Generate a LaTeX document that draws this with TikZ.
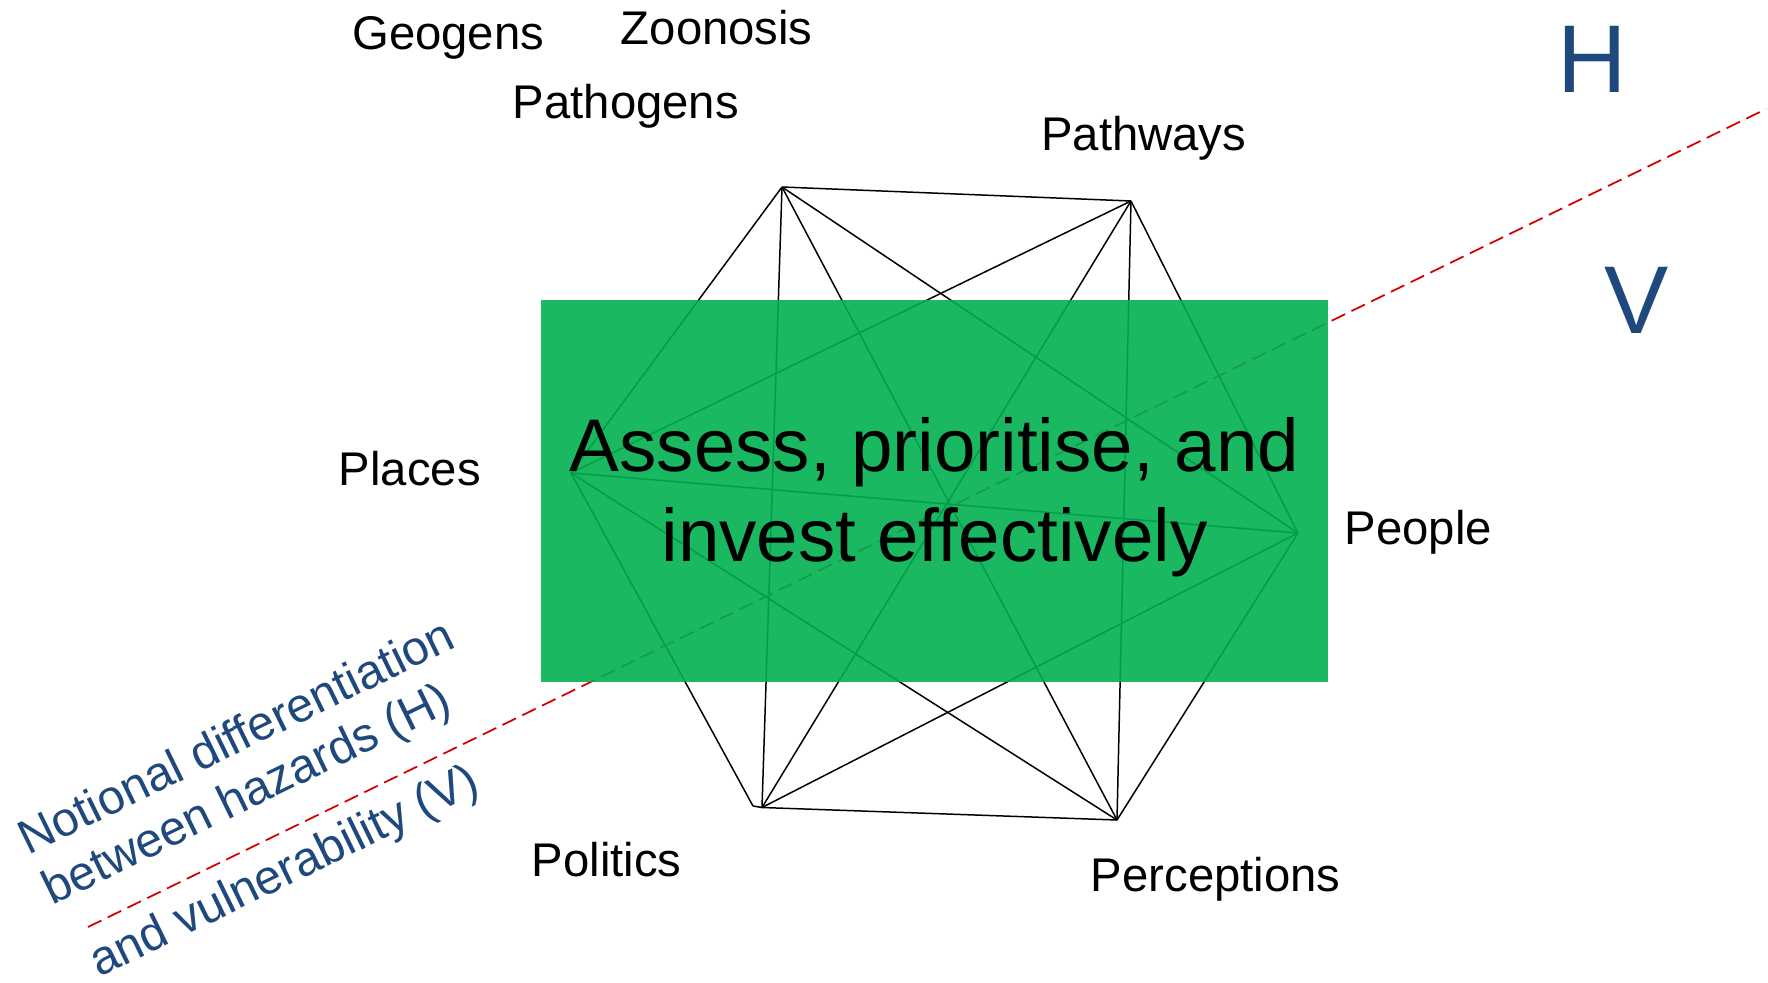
\documentclass[tikz,border=0pt]{standalone}
\usepackage{fontspec}
\setmainfont{Liberation Sans}
\definecolor{hvblue}{HTML}{1F497D}
\definecolor{boxgreen}{HTML}{00B050}
\definecolor{divred}{HTML}{D40000}
\begin{document}
\begin{tikzpicture}[x=0.02cm,y=-0.02cm,
  edge/.style={black,line width=0.85pt},
  divider/.style={divred,line width=1pt,dash pattern=on 8.5pt off 4pt},
  lab/.style={anchor=base west,inner sep=0pt,font=\fontsize{26.9}{32}\selectfont},
  hv/.style={anchor=base west,inner sep=0pt,text=hvblue,font=\fontsize{54.8}{66}\selectfont},
  note/.style={anchor=base west,inner sep=0pt,text=hvblue,rotate=26,font=\fontsize{27.4}{32}\selectfont},
  maintext/.style={anchor=base,inner sep=0pt,font=\fontsize{42.45}{51}\selectfont},
  mainbox/.style={fill=boxgreen,fill opacity=0.9,draw=none,inner sep=0pt,minimum width=15.74cm,minimum height=7.64cm}]
\useasboundingbox (0,0) rectangle (1768,983);
% vertices
\coordinate (TL) at (782,187);
\coordinate (TR) at (1131,201);
\coordinate (L) at (571,473);
\coordinate (R) at (1298,533);
\coordinate (BLa) at (753,806);
\coordinate (BL) at (762,807.5);
\coordinate (BR) at (1117,820);
% complete graph
\draw[edge] (TL) -- (TR);
\draw[edge] (TL) -- (L);
\draw[edge] (TL) -- (BL);
\draw[edge] (TL) -- (BR);
\draw[edge] (TL) -- (R);
\draw[edge] (TR) -- (L);
\draw[edge] (TR) -- (BL);
\draw[edge] (TR) -- (BR);
\draw[edge] (TR) -- (R);
\draw[edge] (L) -- (R);
\draw[edge] (L) -- (BLa);
\draw[edge] (L) -- (BR);
\draw[edge] (R) -- (BL);
\draw[edge] (R) -- (BR);
\draw[edge] (BLa) -- (BL) -- (BR);
% divider
\coordinate (dl) at (88,927);
\coordinate (dr) at (1766,109);
\draw[divider] (dl) -- (dr);
% main box
\node[mainbox] (box) at (934.5,491) {};
\node[maintext] (t1) at (934.5,471.7) {Assess, prioritise, and};
\node[maintext] (t2) at (934.5,561.7) {invest effectively};
% labels
\node[lab] (geo) at (352,50) {Geogens};
\node[lab] (zoo) at (620.5,45) {Zoonosis};
\node[lab] (pat) at (512.5,118.3) {Pathogens};
\node[lab] (pwy) at (1041,151) {Pathways};
\node[lab] (pla) at (338.5,485) {Places};
\node[lab] (peo) at (1344.5,544.5) {People};
\node[lab] (pol) at (531.5,876) {Politics};
\node[lab] (per) at (1090.5,891) {Perceptions};
\node[hv] (H) at (1557,92.3) {H};
\node[hv] (V) at (1604,333) {V};
% note
\node[note] (n1) at (28,856) {Notional differentiation};
\node[note] (n2) at (52,906) {between hazards (H)};
\node[note] (n3) at (99,978) {and vulnerability (V)};
\end{tikzpicture}
\end{document}
